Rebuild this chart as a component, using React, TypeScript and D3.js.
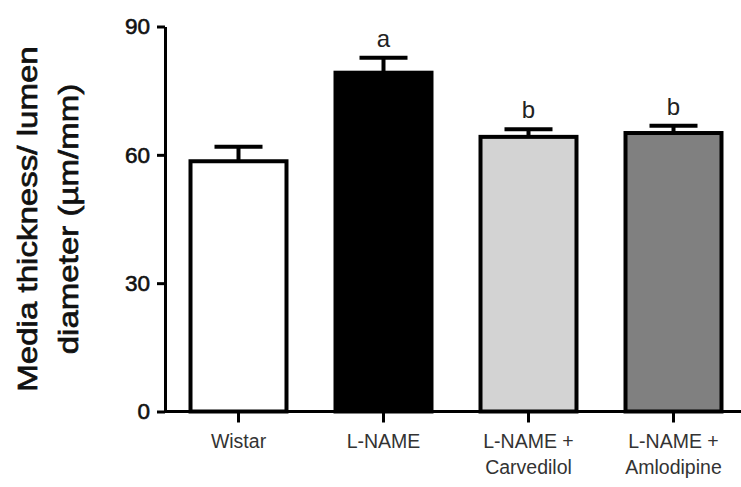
import { useRef, useEffect } from 'react';
import * as d3 from 'd3';

// groups and their means / SEM
const groups = ['Wistar', 'L-NAME', 'L-NAME + Carvedilol', 'L-NAME + Amlodipine'];
const labelLines = [['Wistar'], ['L-NAME'], ['L-NAME +', 'Carvedilol'], ['L-NAME +', 'Amlodipine']];
const means = [58.5, 79.2, 64.2, 65.1];
const sems = [3.4, 3.5, 1.8, 1.7];
const letters = ['', 'a', 'b', 'b'];
const fills = ['#ffffff', '#000000', '#d3d3d3', '#808080'];
const yTicks = [0, 30, 60, 90];

const W = 741;
const H = 487;
const FONT = '"Liberation Sans", Arial, Helvetica, sans-serif';

const App = () => {
  const svgRef = useRef<SVGSVGElement>(null);

  useEffect(() => {
    const svg = d3.select(svgRef.current);
    svg.selectAll('*').remove();

    const axisX = 165;
    const baseY = 411.5;

    const x = d3.scaleBand<string>()
      .domain(groups)
      .range([axisX + 1, 746])
      .paddingInner(0.338)
      .paddingOuter(0.169);

    const y = d3.scaleLinear()
      .domain([0, 90])
      .range([baseY, 26.5]);

    const data = groups.map((g, i) => ({ g, mean: means[i], sem: sems[i], letter: letters[i], fill: fills[i] }));

    // bars
    svg.append('g')
      .selectAll('rect')
      .data(data)
      .join('rect')
      .attr('x', d => x(d.g)!)
      .attr('y', d => y(d.mean))
      .attr('width', x.bandwidth())
      .attr('height', d => y(0) - y(d.mean))
      .attr('fill', d => d.fill)
      .attr('stroke', '#000')
      .attr('stroke-width', 4);

    // error bars (upper only)
    const err = svg.append('g').attr('stroke', '#000').attr('stroke-width', 4);
    err.selectAll('line.stem')
      .data(data)
      .join('line')
      .attr('class', 'stem')
      .attr('x1', d => x(d.g)! + x.bandwidth() / 2)
      .attr('x2', d => x(d.g)! + x.bandwidth() / 2)
      .attr('y1', d => y(d.mean))
      .attr('y2', d => y(d.mean + d.sem));
    err.selectAll('line.cap')
      .data(data)
      .join('line')
      .attr('class', 'cap')
      .attr('x1', d => x(d.g)! + x.bandwidth() / 2 - 24)
      .attr('x2', d => x(d.g)! + x.bandwidth() / 2 + 24)
      .attr('y1', d => y(d.mean + d.sem))
      .attr('y2', d => y(d.mean + d.sem));

    // significance letters
    svg.append('g')
      .selectAll('text')
      .data(data.filter(d => d.letter))
      .join('text')
      .attr('x', d => x(d.g)! + x.bandwidth() / 2)
      .attr('y', d => y(d.mean + d.sem) - 11)
      .attr('text-anchor', 'middle')
      .attr('font-family', FONT)
      .attr('font-size', 24)
      .attr('fill', '#222')
      .text(d => d.letter);

    // y axis
    const gy = svg.append('g')
      .attr('transform', `translate(${axisX},0)`)
      .call(d3.axisLeft(y).tickValues(yTicks).tickSize(8).tickSizeOuter(0).tickPadding(7));
    gy.selectAll('path, line').attr('stroke', '#000').attr('stroke-width', 3);
    gy.selectAll('text')
      .attr('font-family', FONT)
      .attr('font-size', 22.5)
      .attr('fill', '#111')
      .attr('stroke', '#111')
      .attr('stroke-width', 0.6);

    // x axis
    const gx = svg.append('g')
      .attr('transform', `translate(0,${baseY})`)
      .call(d3.axisBottom(x).tickSize(11).tickSizeOuter(0));
    gx.selectAll('path, line').attr('stroke', '#000').attr('stroke-width', 3);
    gx.selectAll('text').remove();
    gx.selectAll('g.tick')
      .append('text')
      .attr('text-anchor', 'middle')
      .attr('font-family', FONT)
      .attr('font-size', 19.5)
      .attr('fill', '#333')
      .each(function (_d, i) {
        const t = d3.select(this);
        labelLines[i].forEach((line, k) => {
          t.append('tspan').attr('x', 0).attr('y', 36 + k * 26.5).text(line);
        });
      });
    gx.select('.domain').attr('d', `M${axisX},0H${W + 5}`);

    // y title, two rotated lines
    const yt = svg.append('text')
      .attr('transform', `translate(0,${(baseY + 26.5) / 2}) rotate(-90) scale(1.16,1)`)
      .attr('text-anchor', 'middle')
      .attr('font-family', FONT)
      .attr('font-size', 28.5)
      .attr('fill', '#111')
      .attr('stroke', '#111')
      .attr('stroke-width', 0.7);
    yt.append('tspan').attr('x', 0).attr('y', 37).text('Media thickness/ lumen');
    yt.append('tspan').attr('x', 0).attr('y', 78).text('diameter (\u00b5m/mm)');
  }, []);

  return (
    <svg
      ref={svgRef}
      width={W}
      height={H}
      style={{ position: 'absolute', left: 0, top: 0, background: '#fff' }}
    ></svg>
  );
};

export default App;
